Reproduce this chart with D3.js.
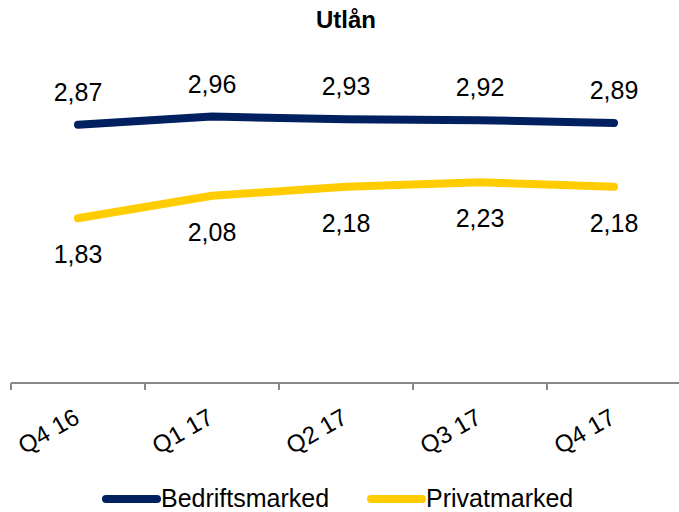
<!DOCTYPE html>
<html>
<head>
<meta charset="utf-8">
<script src="https://cdn.jsdelivr.net/npm/d3@7"></script>
<style>
  body { margin: 0; background: #fff; }
  text { font-family: "Liberation Sans", Arial, sans-serif; }
</style>
</head>
<body>
<div id="chart"></div>
<script>
var quarters = ["Q4 16", "Q1 17", "Q2 17", "Q3 17", "Q4 17"];
var bedrift = [2.87, 2.96, 2.93, 2.92, 2.89];
var privat = [1.83, 2.08, 2.18, 2.23, 2.18];
var seriesNames = ["Bedriftsmarked", "Privatmarked"];
var seriesColors = ["#002060", "#FFCC00"];

var width = 679, height = 512;
var fmt = function(v) { return d3.format(".2f")(v).replace(".", ","); };

var svg = d3.select("#chart").append("svg")
  .attr("width", width)
  .attr("height", height);

var x = d3.scaleBand()
  .domain(quarters)
  .range([11, 681]);

var y = d3.scaleLinear()
  .domain([0, 3.5])
  .range([383, 68]);

// title
svg.append("text")
  .attr("x", 346)
  .attr("y", 28)
  .attr("text-anchor", "middle")
  .style("font-size", "24px")
  .style("font-weight", "bold")
  .text("Utlån");

// x axis
var xAxis = d3.axisBottom(x).tickSize(0).tickFormat("");
var gx = svg.append("g")
  .attr("transform", "translate(0,383)")
  .call(xAxis);
gx.select(".domain").attr("stroke", "#888").attr("stroke-width", 2).attr("d", "M11,0H679");

// tick marks at band edges
gx.selectAll(".edge")
  .data(quarters)
  .enter().append("line")
  .attr("class", "edge")
  .attr("x1", function(d) { return x(d); })
  .attr("x2", function(d) { return x(d); })
  .attr("y1", 0)
  .attr("y2", 7)
  .attr("stroke", "#888")
  .attr("stroke-width", 2);

gx.selectAll(".qlabel")
  .data(quarters)
  .enter().append("text")
  .attr("class", "qlabel")
  .attr("text-anchor", "end")
  .attr("transform", function(d) {
    return "translate(" + (x(d) + x.bandwidth() / 2 + 3) + ",39) rotate(-30)";
  })
  .style("font-size", "24px")
  .attr("fill", "#000")
  .text(function(d) { return d; });

var line = d3.line()
  .x(function(d, i) { return x(quarters[i]) + x.bandwidth() / 2; })
  .y(function(d) { return y(d); });

var series = [bedrift, privat];

svg.selectAll(".serie")
  .data(series)
  .enter().append("path")
  .attr("class", "serie")
  .attr("d", line)
  .attr("fill", "none")
  .attr("stroke", function(d, i) { return seriesColors[i]; })
  .attr("stroke-width", 8)
  .attr("stroke-linecap", "round")
  .attr("stroke-linejoin", "round");

// labels above navy line
svg.selectAll(".lblB")
  .data(bedrift)
  .enter().append("text")
  .attr("class", "lblB")
  .attr("x", function(d, i) { return x(quarters[i]) + x.bandwidth() / 2; })
  .attr("y", function(d) { return y(d) - 24; })
  .attr("text-anchor", "middle")
  .style("font-size", "25px")
  .text(fmt);

// labels below yellow line
svg.selectAll(".lblP")
  .data(privat)
  .enter().append("text")
  .attr("class", "lblP")
  .attr("x", function(d, i) { return x(quarters[i]) + x.bandwidth() / 2; })
  .attr("y", function(d) { return y(d) + 45; })
  .attr("text-anchor", "middle")
  .style("font-size", "25px")
  .text(fmt);

// legend
var legX = [103, 368];
var leg = svg.selectAll(".leg")
  .data(seriesNames)
  .enter().append("g")
  .attr("class", "leg")
  .attr("transform", function(d, i) { return "translate(" + legX[i] + ",499)"; });

leg.append("line")
  .attr("x1", 3).attr("x2", 54)
  .attr("y1", 0).attr("y2", 0)
  .attr("stroke", function(d, i) { return seriesColors[i]; })
  .attr("stroke-width", 8)
  .attr("stroke-linecap", "round");

leg.append("text")
  .attr("x", 58)
  .attr("y", 8)
  .style("font-size", "25px")
  .text(function(d) { return d; });
</script>
</body>
</html>
